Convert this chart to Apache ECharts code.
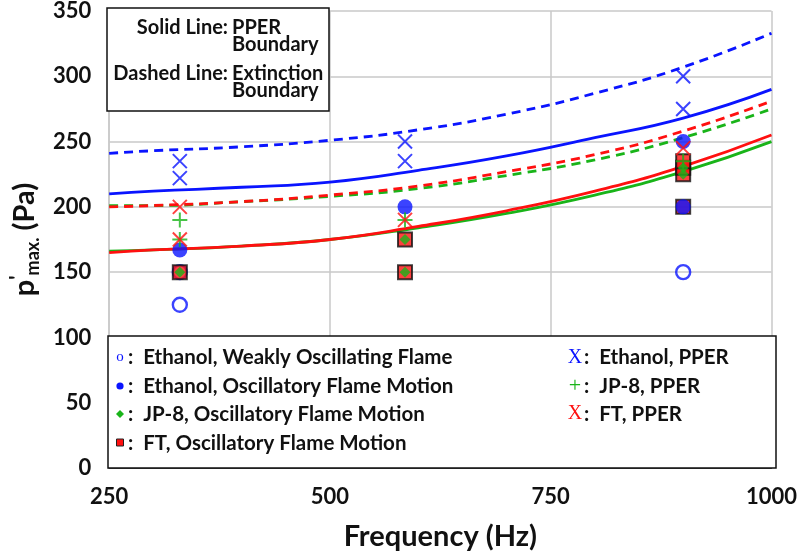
<!DOCTYPE html>
<html><head><meta charset="utf-8">
<script src="https://cdn.jsdelivr.net/npm/echarts@6/dist/echarts.min.js"></script>
<style>html,body{margin:0;padding:0;background:#fff}#c{width:800px;height:556px}</style>
</head><body><div id="c"></div>
<script>
// ---- data ----
const curveFreq = [250, 300, 400, 500, 600, 700, 800, 900, 1000];
const ethanolPPERBoundary = [210, 212, 215, 219, 228, 239, 253, 268, 290];
const ethanolExtBoundary  = [241, 243, 246, 251, 259, 271, 287, 307, 333];
const ftExtBoundary       = [200, 201, 204, 209, 216, 227, 240, 258, 281];
const jp8ExtBoundary      = [201, 201, 204, 208, 214, 224, 236, 253, 275];
const ftPPERBoundary      = [165, 167, 170, 175, 185, 197, 212, 231, 255];
const jp8PPERBoundary     = [166, 167, 170, 175, 184, 195, 209, 227, 250];

const ethanolWeakFreq = [330, 330, 900];
const ethanolWeakP    = [125, 150, 150];
const ethanolOscFreq  = [330, 585, 900, 900];
const ethanolOscP     = [167, 200, 250, 200];
const jp8OscFreq      = [330, 585, 585, 900, 900];
const jp8OscP         = [150, 175, 150, 225, 230];
const ftOscFreq       = [330, 585, 585, 900, 900, 900, 900];
const ftOscP          = [150, 175, 150, 225, 230, 235, 200];
const ethanolPPERFreq = [330, 330, 585, 585, 900, 900];
const ethanolPPERP    = [235, 222, 250, 235, 300, 275];
const jp8PPERFreq     = [330, 330, 585, 900];
const jp8PPERP        = [190, 175, 190, 235];
const ftPPERFreq      = [330, 330, 585, 900];
const ftPPERP         = [200, 175, 190, 245];

const xTicks = [250, 500, 750, 1000];
const yTicks = [0, 50, 100, 150, 200, 250, 300, 350];

// ---- styles ----
const BLUE = '#0a14ff', RED = '#ff1010', GREEN = '#19b419';
const FONT = 'Lato';
const zip = (a, b) => a.map((v, i) => [v, b[i]]);
const X_PATH = 'path://M0,0L10,10M10,0L0,10';
const PLUS_PATH = 'path://M5,0L5,10M0,5L10,5';

function curve(data, color, dashed) {
  return {
    type: 'line', data: zip(curveFreq, data), smooth: true, showSymbol: false,
    symbol: 'none', z: 2, silent: true,
    lineStyle: { color, width: 2.8, type: dashed ? [9, 6] : 'solid' }
  };
}
function pts(fx, py, symbol, size, style, z) {
  return { type: 'scatter', data: zip(fx, py), symbol, symbolSize: size, itemStyle: style, z: z };
}

const chart = echarts.init(document.getElementById('c'), null, { renderer: 'canvas' });
const txt = { fontFamily: FONT, fontWeight: 'bold', fontSize: 20, fill: '#111' };
const lg = Object.assign({}, txt, { fontSize: 20.5 });

chart.setOption({
  animation: false,
  backgroundColor: '#fff',
  grid: { left: 107, right: 26, top: 8, bottom: 88 },
  xAxis: {
    type: 'value', min: xTicks[0], max: xTicks[xTicks.length - 1], interval: 250,
    name: 'Frequency (Hz)', nameLocation: 'middle', nameGap: 54,
    nameTextStyle: { fontFamily: FONT, fontWeight: 'bold', fontSize: 29, color: '#111' },
    axisLine: { show: true, lineStyle: { color: '#222', width: 1.5 } },
    axisTick: { show: false },
    axisLabel: { fontFamily: FONT, fontWeight: 'bold', fontSize: 22, color: '#111', margin: 18,
      formatter: v => String(v) },
    splitLine: { show: true, lineStyle: { color: '#c8c8c8', width: 1.5 } }
  },
  yAxis: {
    type: 'value', min: yTicks[0], max: yTicks[yTicks.length - 1], interval: 50,
    name: '{p|p}{sup|\'}{sub|max.}{p| (Pa)}', nameLocation: 'middle', nameGap: 67, nameRotate: 90,
    nameTextStyle: {
      fontFamily: FONT, fontWeight: 'bold', color: '#111',
      rich: {
        p: { fontFamily: FONT, fontWeight: 'bold', fontSize: 29, color: '#111', lineHeight: 34, verticalAlign: 'middle' },
        sup: { fontFamily: FONT, fontWeight: 'bold', fontSize: 20, color: '#111', lineHeight: 26, verticalAlign: 'top' },
        sub: { fontFamily: FONT, fontWeight: 'bold', fontSize: 18, color: '#111', lineHeight: 30, verticalAlign: 'bottom' }
      }
    },
    axisLine: { show: true, lineStyle: { color: '#c8c8c8', width: 1.5 } },
    axisTick: { show: false },
    axisLabel: { fontFamily: FONT, fontWeight: 'bold', fontSize: 22, color: '#111', margin: 18 },
    splitLine: { show: true, lineStyle: { color: '#c8c8c8', width: 1.5 } }
  },
  series: [
    curve(ethanolExtBoundary, BLUE, true),
    curve(jp8ExtBoundary, GREEN, true),
    curve(ftExtBoundary, RED, true),
    curve(ethanolPPERBoundary, BLUE, false),
    curve(jp8PPERBoundary, GREEN, false),
    curve(ftPPERBoundary, RED, false),
    pts(ethanolWeakFreq, ethanolWeakP, 'circle', 14, { color: 'rgba(255,255,255,0)', borderColor: BLUE, borderWidth: 2.4 }, 3),
    pts(ftOscFreq, ftOscP, 'rect', 14, { color: RED, borderColor: '#111', borderWidth: 2 }, 4),
    pts(jp8OscFreq, jp8OscP, 'diamond', 11, { color: GREEN }, 5),
    pts(ethanolOscFreq, ethanolOscP, 'circle', 15, { color: BLUE }, 6),
    pts(ethanolPPERFreq, ethanolPPERP, X_PATH, 14, { color: 'rgba(0,0,0,0)', borderColor: BLUE, borderWidth: 2 }, 7),
    pts(jp8PPERFreq, jp8PPERP, PLUS_PATH, 15, { color: 'rgba(0,0,0,0)', borderColor: GREEN, borderWidth: 2 }, 7),
    pts(ftPPERFreq, ftPPERP, X_PATH, 14, { color: 'rgba(0,0,0,0)', borderColor: RED, borderWidth: 2 }, 8)
  ],
  graphic: [
    // top-left annotation box
    { type: 'rect', z: 50, shape: { x: 107, y: 8, width: 222, height: 103 },
      style: { fill: '#fff', stroke: '#111', lineWidth: 1.5 } },
    { type: 'text', z: 51, x: 228, y: 28, style: Object.assign({ text: 'Solid Line:', align: 'right', verticalAlign: 'middle' }, txt) },
    { type: 'text', z: 51, x: 232, y: 28, style: Object.assign({ text: 'PPER', align: 'left', verticalAlign: 'middle' }, txt) },
    { type: 'text', z: 51, x: 232, y: 45, style: Object.assign({ text: 'Boundary', align: 'left', verticalAlign: 'middle' }, txt) },
    { type: 'text', z: 51, x: 228, y: 74, style: Object.assign({ text: 'Dashed Line:', align: 'right', verticalAlign: 'middle' }, txt) },
    { type: 'text', z: 51, x: 232, y: 74, style: Object.assign({ text: 'Extinction', align: 'left', verticalAlign: 'middle' }, txt) },
    { type: 'text', z: 51, x: 232, y: 91, style: Object.assign({ text: 'Boundary', align: 'left', verticalAlign: 'middle' }, txt) },
    // bottom legend box
    { type: 'rect', z: 50, shape: { x: 108, y: 336, width: 668, height: 132 },
      style: { fill: '#fff', stroke: '#111', lineWidth: 1.5 } },
    { type: 'text', z: 51, x: 120, y: 357, style: { text: 'o', fontFamily: 'Liberation Serif', fontSize: 15, fill: BLUE, align: 'center', verticalAlign: 'middle' } },
    { type: 'circle', z: 51, shape: { cx: 120, cy: 386, r: 3.6 }, style: { fill: BLUE } },
    { type: 'polygon', z: 51, shape: { points: [[120, 410], [124, 414], [120, 418], [116, 414]] }, style: { fill: GREEN } },
    { type: 'rect', z: 51, shape: { x: 116.5, y: 439, width: 7, height: 7 }, style: { fill: RED, stroke: '#222', lineWidth: 1 } },
    { type: 'text', z: 51, x: 128, y: 357, style: Object.assign({ text: ':  Ethanol, Weakly Oscillating Flame', verticalAlign: 'middle' }, lg) },
    { type: 'text', z: 51, x: 128, y: 386, style: Object.assign({ text: ':  Ethanol, Oscillatory Flame Motion', verticalAlign: 'middle' }, lg) },
    { type: 'text', z: 51, x: 128, y: 414, style: Object.assign({ text: ':  JP-8, Oscillatory Flame Motion', verticalAlign: 'middle' }, lg) },
    { type: 'text', z: 51, x: 128, y: 443, style: Object.assign({ text: ':  FT, Oscillatory Flame Motion', verticalAlign: 'middle' }, lg) },
    { type: 'text', z: 51, x: 575, y: 358, style: { text: 'X', fontFamily: 'Liberation Serif', fontSize: 20, fill: BLUE, align: 'center', verticalAlign: 'middle' } },
    { type: 'text', z: 51, x: 575, y: 386, style: { text: '+', fontFamily: 'Liberation Serif', fontSize: 22, fill: GREEN, align: 'center', verticalAlign: 'middle' } },
    { type: 'text', z: 51, x: 575, y: 414, style: { text: 'X', fontFamily: 'Liberation Serif', fontSize: 20, fill: RED, align: 'center', verticalAlign: 'middle' } },
    { type: 'text', z: 51, x: 584, y: 357, style: Object.assign({ text: ':  Ethanol, PPER', verticalAlign: 'middle' }, lg) },
    { type: 'text', z: 51, x: 584, y: 386, style: Object.assign({ text: ':  JP-8, PPER', verticalAlign: 'middle' }, lg) },
    { type: 'text', z: 51, x: 584, y: 414, style: Object.assign({ text: ':  FT, PPER', verticalAlign: 'middle' }, lg) }
  ]
});
</script></body></html>
